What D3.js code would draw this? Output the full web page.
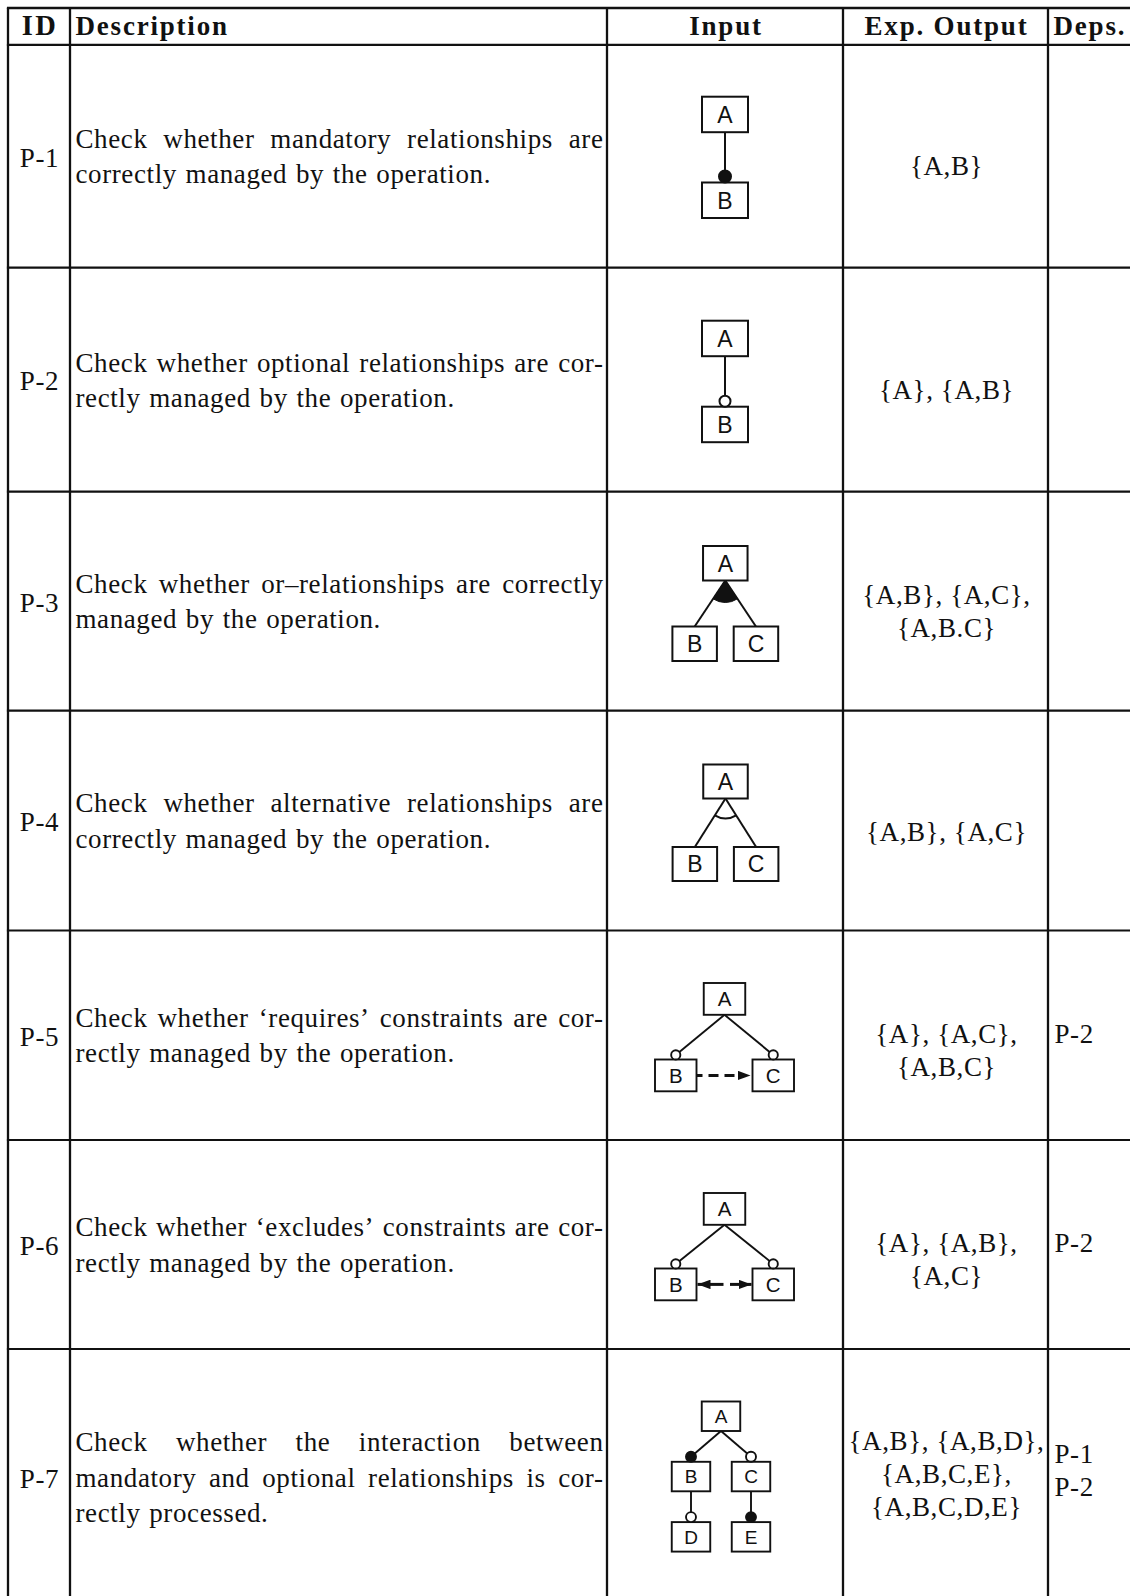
<!DOCTYPE html>
<html><head><meta charset="utf-8">
<script src="https://cdn.jsdelivr.net/npm/d3@7"></script>
<style>body{margin:0;background:#fff}svg{display:block}</style>
</head><body>
<svg id="chart" width="1130" height="1596"></svg>
<script>
// ---------------- data ----------------
const headers = ["ID", "Description", "Input", "Exp. Output", "Deps."];
const ids = ["P-1", "P-2", "P-3", "P-4", "P-5", "P-6", "P-7"];
const descriptions = [
  ["Check whether mandatory relationships are", "correctly managed by the operation."],
  ["Check whether optional relationships are cor-", "rectly managed by the operation."],
  ["Check whether or\u2013relationships are correctly", "managed by the operation."],
  ["Check whether alternative relationships are", "correctly managed by the operation."],
  ["Check whether \u2018requires\u2019 constraints are cor-", "rectly managed by the operation."],
  ["Check whether \u2018excludes\u2019 constraints are cor-", "rectly managed by the operation."],
  ["Check whether the interaction between", "mandatory and optional relationships is cor-", "rectly processed."]
];
const outputs = [
  ["{A,B}"],
  ["{A}, {A,B}"],
  ["{A,B}, {A,C},", "{A,B.C}"],
  ["{A,B}, {A,C}"],
  ["{A}, {A,C},", "{A,B,C}"],
  ["{A}, {A,B},", "{A,C}"],
  ["{A,B}, {A,B,D},", "{A,B,C,E},", "{A,B,C,D,E}"]
];
const dependencies = [[], [], [], [], ["P-2"], ["P-2"], ["P-1", "P-2"]];
const diagramTrees = [
  {name: "A", children: [{name: "B", rel: "mandatory"}]},
  {name: "A", children: [{name: "B", rel: "optional"}]},
  {name: "A", group: "or", children: [{name: "B"}, {name: "C"}]},
  {name: "A", group: "alternative", children: [{name: "B"}, {name: "C"}]},
  {name: "A", children: [{name: "B", rel: "optional"}, {name: "C", rel: "optional"}]},
  {name: "A", children: [{name: "B", rel: "optional"}, {name: "C", rel: "optional"}]},
  {name: "A", children: [
    {name: "B", rel: "mandatory", children: [{name: "D", rel: "optional"}]},
    {name: "C", rel: "optional", children: [{name: "E", rel: "mandatory"}]}]}
];
const diagramConstraints = [[], [], [], [], [{from: "B", to: "C", type: "requires"}],
  [{from: "B", to: "C", type: "excludes"}], []];

// ---------------- layout ----------------
const svg = d3.select("#chart");
const SERIF = "'Liberation Serif','Times New Roman',serif";
const SANS = "'Liberation Sans',Arial,sans-serif";
const FS = 27, LS = 0.6, HLS = 1.8, LINE = 35.2;
const INK = "#111";
const colEdges = [8, 70, 607, 843, 1048, 1140];
const rowEdges = [8, 44.8, 267.7, 491.7, 710.6, 930.5, 1140, 1349, 1605];

const rowTop = d3.scaleOrdinal().domain(ids).range(rowEdges.slice(1, 8));
const rowBot = d3.scaleOrdinal().domain(ids).range(rowEdges.slice(2, 9));
const rowMid = id => (rowTop(id) + rowBot(id)) / 2;

const outOffset = [18.5, 19, 2.5, 20, 8, 7.5, -27];
const outSpacing = 33;
const depOffset = [0, 0, 0, 0, 8, 7.5, -14];

// grid
const grid = svg.append("g").attr("stroke", INK).attr("fill", "none");
grid.selectAll("line.h").data(rowEdges).join("line")
  .attr("x1", colEdges[0] - 1.1).attr("x2", 1135)
  .attr("y1", d => d).attr("y2", d => d)
  .attr("stroke-width", (d, i) => i === 0 ? 2.6 : 2.2);
grid.selectAll("line.v").data(colEdges.slice(0, 5)).join("line")
  .attr("x1", d => d).attr("x2", d => d)
  .attr("y1", rowEdges[0]).attr("y2", 1605)
  .attr("stroke-width", 2.3);

const meas = svg.append("text").attr("visibility", "hidden")
  .style("font-family", SERIF).style("font-size", FS + "px").style("letter-spacing", LS + "px");
function tw(s) { meas.text(s); return meas.node().getBBox().width; }

// header
const hdr = svg.append("g").style("font-family", SERIF).style("font-weight", "bold")
  .style("font-size", FS + "px").attr("fill", INK);
const hdrPos = [
  {x: (colEdges[0] + colEdges[1]) / 2 + 1, a: "middle", ls: 2.5, fs: 28.5},
  {x: colEdges[1] + 5.5, a: "start", ls: HLS, fs: FS},
  {x: (colEdges[2] + colEdges[3]) / 2 + 1, a: "middle", ls: HLS, fs: FS},
  {x: (colEdges[3] + colEdges[4]) / 2 + 1, a: "middle", ls: HLS, fs: FS},
  {x: colEdges[4] + 5.5, a: "start", ls: HLS, fs: FS}
];
hdr.selectAll("text").data(headers).join("text")
  .attr("x", (d, i) => hdrPos[i].x).attr("y", 34.5)
  .style("letter-spacing", (d, i) => hdrPos[i].ls + "px")
  .style("font-size", (d, i) => hdrPos[i].fs + "px")
  .attr("text-anchor", (d, i) => hdrPos[i].a).text(d => d);

const body = svg.append("g").style("font-family", SERIF).style("font-size", FS + "px")
  .style("letter-spacing", LS + "px").attr("fill", INK);

// IDs
body.selectAll("text.id").data(ids).join("text").attr("class", "id")
  .attr("x", (colEdges[0] + colEdges[1]) / 2 + 0.5).attr("y", d => rowMid(d) + 10.5)
  .attr("text-anchor", "middle").text(d => d);

// descriptions (justified)
const xL = colEdges[1] + 5.5, xR = colEdges[2] - 3.5;
descriptions.forEach((lines, r) => {
  const mid = rowMid(ids[r]);
  lines.forEach((line, i) => {
    const y = mid + 9.5 + (i - (lines.length - 1) / 2) * LINE;
    const words = line.split(" ");
    const ws = words.map(tw);
    const sum = d3.sum(ws);
    const last = i === lines.length - 1;
    const gap = last ? FS * 0.3 + LS : (xR - xL - sum) / (words.length - 1);
    let x = xL;
    const t = body.append("text").attr("y", y);
    words.forEach((w, k) => {
      t.append("tspan").attr("x", x).text(w);
      x += ws[k] + gap;
    });
  });
});

// outputs
outputs.forEach((lines, r) => {
  const y0 = rowMid(ids[r]) + outOffset[r];
  body.append("g").selectAll("text").data(lines).join("text")
    .attr("x", (colEdges[3] + colEdges[4]) / 2 + 1)
    .attr("y", (d, i) => y0 + i * outSpacing)
    .attr("text-anchor", "middle").text(d => d);
});

// dependencies
dependencies.forEach((lines, r) => {
  const y0 = rowMid(ids[r]) + depOffset[r];
  body.append("g").selectAll("text").data(lines).join("text")
    .attr("x", colEdges[4] + 6.5).attr("y", (d, i) => y0 + i * outSpacing)
    .text(d => d);
});

// ---------------- diagrams ----------------
const defs = svg.append("defs");
function marker(id, L, Wd) {
  defs.append("marker").attr("id", id).attr("viewBox", `0 0 ${L} ${Wd}`)
    .attr("refX", L).attr("refY", Wd / 2).attr("markerWidth", L).attr("markerHeight", Wd)
    .attr("markerUnits", "userSpaceOnUse").attr("orient", "auto")
    .append("path").attr("d", `M0,0L${L},${Wd / 2}L0,${Wd}Z`).attr("fill", INK);
}
marker("arrow", 13, 9.5);

const diagLayout = [
  {cx: 725, top: 96.7, bw: 46, bh: 35.5, dx: 61, dy: 85.8, fs: 23, r: 6, sw: 2},
  {cx: 725, top: 320.7, bw: 46, bh: 35.5, dx: 61, dy: 86, fs: 23, r: 5.5, sw: 2},
  {cx: 725.3, top: 546, bw: 44.5, bh: 34.5, dx: 61.3, dy: 80.5, fs: 23, R: 22, sw: 2},
  {cx: 725.5, top: 764.5, bw: 44.5, bh: 34, dx: 61.3, dy: 82.5, fs: 23, R: 20, sw: 2},
  {cx: 724.5, top: 983, bw: 41.5, bh: 31.8, dx: 97.5, dy: 76.5, fs: 20.5, r: 4.6, sw: 1.9},
  {cx: 724.5, top: 1193, bw: 41.5, bh: 31.8, dx: 97.5, dy: 75.5, fs: 20.5, r: 4.6, sw: 1.9},
  {cx: 721, top: 1401.5, bw: 38.5, bh: 29.5, dx: 60, dy: 60.3, fs: 19, r: 5, sw: 1.9}
];

diagramTrees.forEach((tree, r) => {
  const L = diagLayout[r];
  const root = d3.hierarchy(tree);
  d3.tree().nodeSize([L.dx, L.dy]).separation(() => 1)(root);
  const g = svg.append("g").attr("stroke", INK).attr("stroke-width", L.sw);
  const X = d => L.cx + d.x, T = d => L.top + d.y;
  const nodes = root.descendants();

  nodes.filter(d => d.parent).forEach(d => {
    const p = d.parent;
    const rel = d.data.rel;
    const y2 = (rel === "mandatory" || rel === "optional") ? T(d) - L.r : T(d);
    g.append("line").attr("x1", X(p)).attr("y1", T(p) + L.bh).attr("x2", X(d)).attr("y2", y2);
  });

  nodes.filter(d => d.data.group && d.children).forEach(p => {
    const ax = X(p), ay = T(p) + L.bh;
    const pts = d3.sort(p.children, c => c.x).map(c => {
      const vx = X(c) - ax, vy = T(c) - ay, len = Math.hypot(vx, vy);
      return [ax + L.R * vx / len, ay + L.R * vy / len];
    });
    const a = pts[0], b = pts[pts.length - 1];
    if (p.data.group === "or") {
      g.append("path").attr("fill", INK).attr("stroke-width", 1)
        .attr("d", `M${ax},${ay}L${a[0]},${a[1]}A${L.R},${L.R} 0 0 0 ${b[0]},${b[1]}Z`);
    } else {
      g.append("path").attr("fill", "none")
        .attr("d", `M${a[0]},${a[1]}A${L.R},${L.R} 0 0 0 ${b[0]},${b[1]}`);
    }
  });

  diagramConstraints[r].forEach(c => {
    const f = nodes.find(d => d.data.name === c.from);
    const t = nodes.find(d => d.data.name === c.to);
    const y = T(f) + L.bh / 2;
    const x1 = X(f) + L.bw / 2, x2 = X(t) - L.bw / 2;
    if (c.type === "requires") {
      g.append("line").attr("x1", x1).attr("x2", x2 - 2).attr("y1", y).attr("y2", y)
        .attr("stroke-width", 3).attr("stroke-dasharray", "6,6,10,6,10,30")
        .attr("marker-end", "url(#arrow)");
    } else {
      const m = (x1 + x2) / 2;
      g.append("line").attr("x1", m - 1).attr("x2", x1 + 1).attr("y1", y).attr("y2", y)
        .attr("stroke-width", 3).attr("marker-end", "url(#arrow)");
      g.append("line").attr("x1", m + 5.5).attr("x2", x2 - 1).attr("y1", y).attr("y2", y)
        .attr("stroke-width", 3).attr("marker-end", "url(#arrow)");
    }
  });

  const ng = g.selectAll("g.node").data(nodes).join("g");
  ng.append("rect").attr("x", d => X(d) - L.bw / 2).attr("y", d => T(d))
    .attr("width", L.bw).attr("height", L.bh).attr("fill", "#fff");
  ng.append("text").attr("x", d => X(d)).attr("y", d => T(d) + L.bh / 2 + L.fs * 0.36)
    .attr("text-anchor", "middle").attr("stroke", "none").attr("fill", INK)
    .style("font-family", SANS).style("font-size", L.fs + "px").text(d => d.data.name);

  nodes.filter(d => d.data.rel === "mandatory" || d.data.rel === "optional").forEach(d => {
    g.append("circle").attr("cx", X(d)).attr("cy", T(d) - L.r).attr("r", L.r)
      .attr("fill", d.data.rel === "mandatory" ? INK : "#fff");
  });
});
meas.remove();
</script>
</body></html>
